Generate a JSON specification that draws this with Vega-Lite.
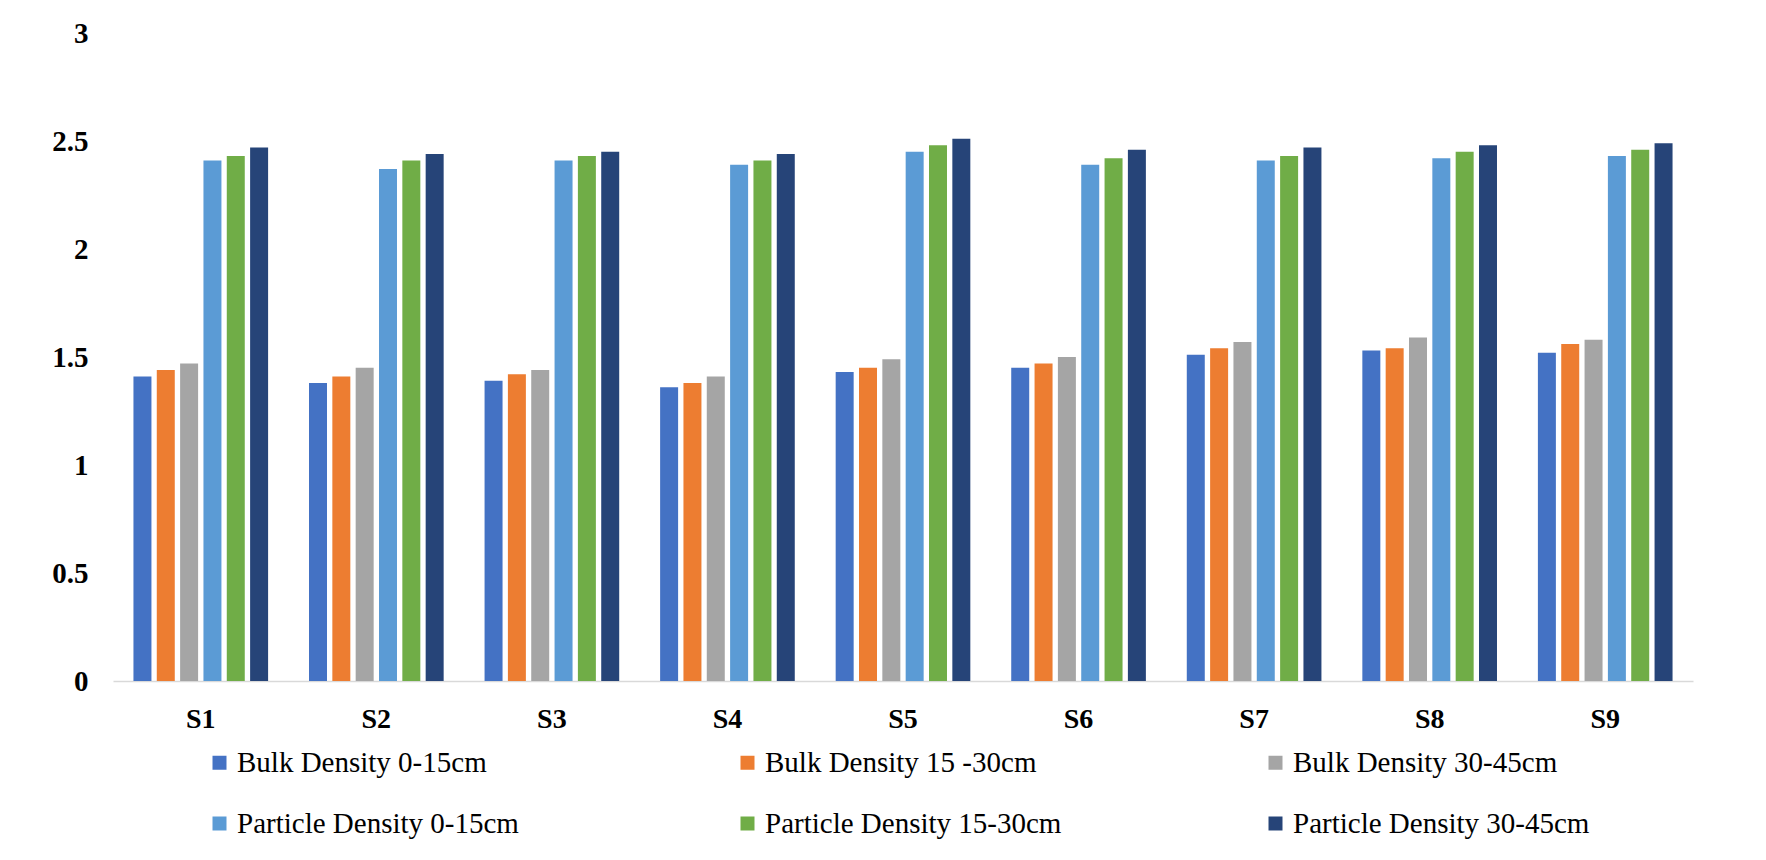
{
  "$schema": "https://vega.github.io/schema/vega-lite/v6.json",
  "autosize": {"type": "none"},
  "width": 1580,
  "height": 648,
  "padding": {"left": 113, "top": 33, "right": 73, "bottom": 179},
  "background": "white",
  "config": {
    "view": {"stroke": null},
    "font": "Liberation Serif"
  },
  "data": {
    "values": [
      {"site": "S1", "series": "Bulk Density 0-15cm", "value": 1.41},
      {"site": "S1", "series": "Bulk Density 15 -30cm", "value": 1.44},
      {"site": "S1", "series": "Bulk Density 30-45cm", "value": 1.47},
      {"site": "S1", "series": "Particle Density 0-15cm", "value": 2.41},
      {"site": "S1", "series": "Particle Density 15-30cm", "value": 2.43},
      {"site": "S1", "series": "Particle Density 30-45cm", "value": 2.47},
      {"site": "S2", "series": "Bulk Density 0-15cm", "value": 1.38},
      {"site": "S2", "series": "Bulk Density 15 -30cm", "value": 1.41},
      {"site": "S2", "series": "Bulk Density 30-45cm", "value": 1.45},
      {"site": "S2", "series": "Particle Density 0-15cm", "value": 2.37},
      {"site": "S2", "series": "Particle Density 15-30cm", "value": 2.41},
      {"site": "S2", "series": "Particle Density 30-45cm", "value": 2.44},
      {"site": "S3", "series": "Bulk Density 0-15cm", "value": 1.39},
      {"site": "S3", "series": "Bulk Density 15 -30cm", "value": 1.42},
      {"site": "S3", "series": "Bulk Density 30-45cm", "value": 1.44},
      {"site": "S3", "series": "Particle Density 0-15cm", "value": 2.41},
      {"site": "S3", "series": "Particle Density 15-30cm", "value": 2.43},
      {"site": "S3", "series": "Particle Density 30-45cm", "value": 2.45},
      {"site": "S4", "series": "Bulk Density 0-15cm", "value": 1.36},
      {"site": "S4", "series": "Bulk Density 15 -30cm", "value": 1.38},
      {"site": "S4", "series": "Bulk Density 30-45cm", "value": 1.41},
      {"site": "S4", "series": "Particle Density 0-15cm", "value": 2.39},
      {"site": "S4", "series": "Particle Density 15-30cm", "value": 2.41},
      {"site": "S4", "series": "Particle Density 30-45cm", "value": 2.44},
      {"site": "S5", "series": "Bulk Density 0-15cm", "value": 1.43},
      {"site": "S5", "series": "Bulk Density 15 -30cm", "value": 1.45},
      {"site": "S5", "series": "Bulk Density 30-45cm", "value": 1.49},
      {"site": "S5", "series": "Particle Density 0-15cm", "value": 2.45},
      {"site": "S5", "series": "Particle Density 15-30cm", "value": 2.48},
      {"site": "S5", "series": "Particle Density 30-45cm", "value": 2.51},
      {"site": "S6", "series": "Bulk Density 0-15cm", "value": 1.45},
      {"site": "S6", "series": "Bulk Density 15 -30cm", "value": 1.47},
      {"site": "S6", "series": "Bulk Density 30-45cm", "value": 1.50},
      {"site": "S6", "series": "Particle Density 0-15cm", "value": 2.39},
      {"site": "S6", "series": "Particle Density 15-30cm", "value": 2.42},
      {"site": "S6", "series": "Particle Density 30-45cm", "value": 2.46},
      {"site": "S7", "series": "Bulk Density 0-15cm", "value": 1.51},
      {"site": "S7", "series": "Bulk Density 15 -30cm", "value": 1.54},
      {"site": "S7", "series": "Bulk Density 30-45cm", "value": 1.57},
      {"site": "S7", "series": "Particle Density 0-15cm", "value": 2.41},
      {"site": "S7", "series": "Particle Density 15-30cm", "value": 2.43},
      {"site": "S7", "series": "Particle Density 30-45cm", "value": 2.47},
      {"site": "S8", "series": "Bulk Density 0-15cm", "value": 1.53},
      {"site": "S8", "series": "Bulk Density 15 -30cm", "value": 1.54},
      {"site": "S8", "series": "Bulk Density 30-45cm", "value": 1.59},
      {"site": "S8", "series": "Particle Density 0-15cm", "value": 2.42},
      {"site": "S8", "series": "Particle Density 15-30cm", "value": 2.45},
      {"site": "S8", "series": "Particle Density 30-45cm", "value": 2.48},
      {"site": "S9", "series": "Bulk Density 0-15cm", "value": 1.52},
      {"site": "S9", "series": "Bulk Density 15 -30cm", "value": 1.56},
      {"site": "S9", "series": "Bulk Density 30-45cm", "value": 1.58},
      {"site": "S9", "series": "Particle Density 0-15cm", "value": 2.43},
      {"site": "S9", "series": "Particle Density 15-30cm", "value": 2.46},
      {"site": "S9", "series": "Particle Density 30-45cm", "value": 2.49}
    ]
  },
  "mark": {"type": "bar"},
  "encoding": {
    "x": {
      "field": "site",
      "type": "nominal",
      "sort": null,
      "scale": {"paddingInner": 0.233, "paddingOuter": 0.1165},
      "axis": {
        "title": null,
        "labelAngle": 0,
        "labelFont": "Liberation Serif",
        "labelFontSize": 28,
        "labelFontWeight": "bold",
        "labelColor": "black",
        "labelPadding": 24,
        "ticks": false,
        "domainColor": "#d9d9d9",
        "domainWidth": 1.5,
        "grid": false
      }
    },
    "xOffset": {
      "field": "series",
      "type": "nominal",
      "sort": [
        "Bulk Density 0-15cm",
        "Bulk Density 15 -30cm",
        "Bulk Density 30-45cm",
        "Particle Density 0-15cm",
        "Particle Density 15-30cm",
        "Particle Density 30-45cm"
      ],
      "scale": {"paddingInner": 0.229, "paddingOuter": 0}
    },
    "y": {
      "field": "value",
      "type": "quantitative",
      "scale": {"domain": [0, 3], "nice": false},
      "axis": {
        "title": null,
        "values": [0, 0.5, 1, 1.5, 2, 2.5, 3],
        "format": ".1~f",
        "labelFont": "Liberation Serif",
        "labelFontSize": 29,
        "labelFontWeight": "bold",
        "labelColor": "black",
        "labelPadding": 25,
        "ticks": false,
        "domain": false,
        "grid": false
      }
    },
    "color": {
      "field": "series",
      "type": "nominal",
      "scale": {
        "domain": [
          "Bulk Density 0-15cm",
          "Bulk Density 15 -30cm",
          "Bulk Density 30-45cm",
          "Particle Density 0-15cm",
          "Particle Density 15-30cm",
          "Particle Density 30-45cm"
        ],
        "range": ["#4472C4", "#ED7D31", "#A5A5A5", "#5B9BD5", "#70AD47", "#264478"]
      },
      "legend": {
        "title": null,
        "orient": "none",
        "legendX": 92,
        "legendY": 715,
        "direction": "horizontal",
        "columns": 3,
        "gridAlign": "all",
        "columnPadding": 199,
        "rowPadding": 31,
        "padding": 0,
        "symbolType": "square",
        "symbolSize": 196,
        "symbolStrokeWidth": 0,
        "symbolOpacity": 1,
        "labelFont": "Liberation Serif",
        "labelFontSize": 29,
        "labelColor": "black",
        "labelOffset": 3,
        "labelLimit": 0
      }
    }
  }
}
